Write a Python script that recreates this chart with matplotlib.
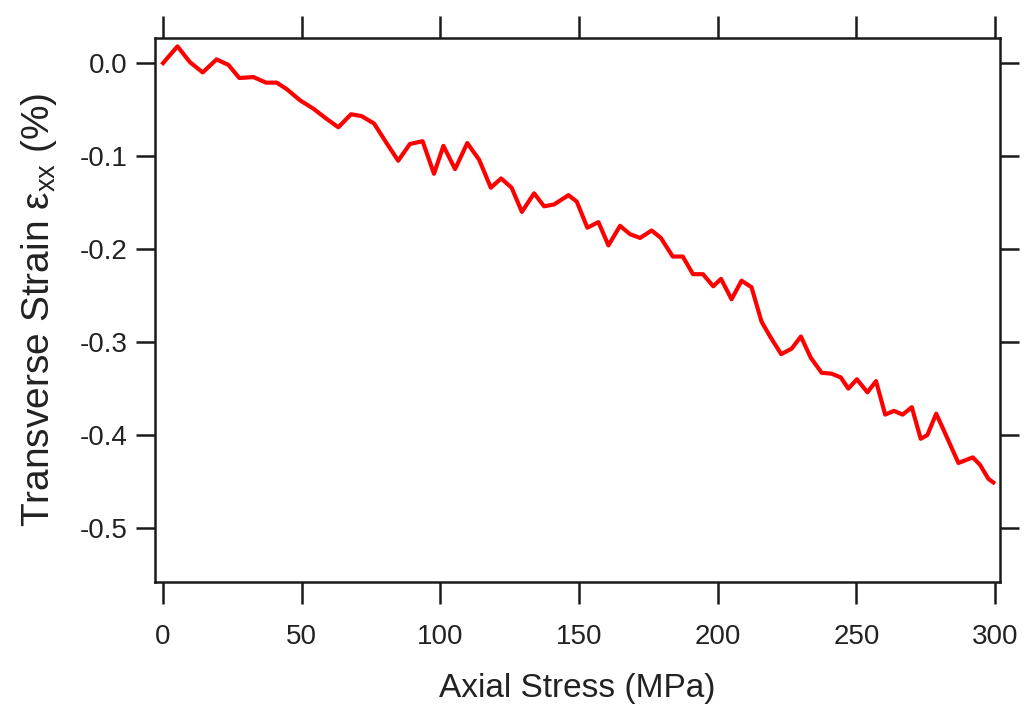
import matplotlib
matplotlib.use("Agg")
import matplotlib.pyplot as plt

plt.rcParams['font.family'] = ['Liberation Sans', 'DejaVu Sans']
plt.rcParams['mathtext.fontset'] = 'custom'
plt.rcParams['mathtext.rm'] = 'Liberation Sans'

# axial stress (MPa) and transverse strain (%)
stress = [0, 5.2, 9.7, 14.3, 19.3, 23.6, 27.5, 32.6, 37.1, 41.0, 44.6, 49.4,
          54.2, 59.0, 63.2, 67.8, 71.6, 76.1, 80.6, 84.8, 89.0, 93.6, 97.7,
          101.1, 105.3, 109.7, 114.0, 118.2, 121.9, 125.7, 129.4, 133.8,
          137.4, 141.0, 146.2, 149.2, 153.0, 157.0, 160.6, 164.8, 168.4,
          172.0, 176.2, 179.5, 183.8, 187.4, 191.1, 194.7, 198.4, 201.2,
          205.0, 208.6, 212.2, 215.8, 219.1, 222.9, 226.7, 230.0, 233.6,
          237.5, 241.1, 244.4, 247.1, 250.2, 254.0, 257.1, 260.4, 263.6,
          266.7, 270.0, 273.2, 275.6, 278.8, 282.0, 286.8, 292.0, 294.6,
          297.6, 299.4]
strain = [0.000, 0.018, 0.001, -0.010, 0.004, -0.002, -0.016, -0.015, -0.021,
          -0.021, -0.028, -0.040, -0.049, -0.060, -0.069, -0.055, -0.057,
          -0.065, -0.086, -0.105, -0.087, -0.084, -0.119, -0.089, -0.114,
          -0.086, -0.104, -0.134, -0.124, -0.134, -0.160, -0.140, -0.154,
          -0.152, -0.142, -0.149, -0.177, -0.171, -0.196, -0.175, -0.184,
          -0.188, -0.180, -0.188, -0.208, -0.208, -0.227, -0.227, -0.240,
          -0.232, -0.254, -0.234, -0.241, -0.278, -0.295, -0.313, -0.307,
          -0.294, -0.317, -0.333, -0.334, -0.338, -0.350, -0.340, -0.354,
          -0.342, -0.378, -0.374, -0.378, -0.370, -0.404, -0.400, -0.377,
          -0.398, -0.430, -0.424, -0.432, -0.447, -0.451]

x_ticks = [0, 50, 100, 150, 200, 250, 300]
y_ticks = [0.0, -0.1, -0.2, -0.3, -0.4, -0.5]

fig = plt.figure(figsize=(10.24, 7.09), dpi=100)
ax = fig.add_axes([155 / 1024, 1 - 582 / 709, 845 / 1024, 544 / 709])

ax.plot(stress, strain, color='#ff0000', lw=3, solid_joinstyle='round')

ax.set_xlim(-2.9, 301.8)
ax.set_ylim(-0.558, 0.027)
ax.set_xticks(x_ticks)
ax.set_xticklabels([str(t) for t in x_ticks])
ax.set_yticks(y_ticks)
ax.set_yticklabels(['%.1f' % t for t in y_ticks])

for s in ax.spines.values():
    s.set_linewidth(1.8)
    s.set_color('#1a1a1a')
ax.tick_params(axis='both', direction='out', length=16, width=1.8, color='#1a1a1a',
               top=True, right=True, labelsize=20, labelcolor='#222222')
ax.tick_params(axis='x', pad=14)
ax.tick_params(axis='y', length=14, pad=6)

ax.set_xlabel('Axial Stress (MPa)', fontsize=24, color='#222222', labelpad=17)
ax.set_ylabel('Transverse Strain ε$_{\\mathregular{xx}}$ (%)', fontsize=28,
              color='#222222', labelpad=15)

fig.savefig('out.png', dpi=100, facecolor='white')
